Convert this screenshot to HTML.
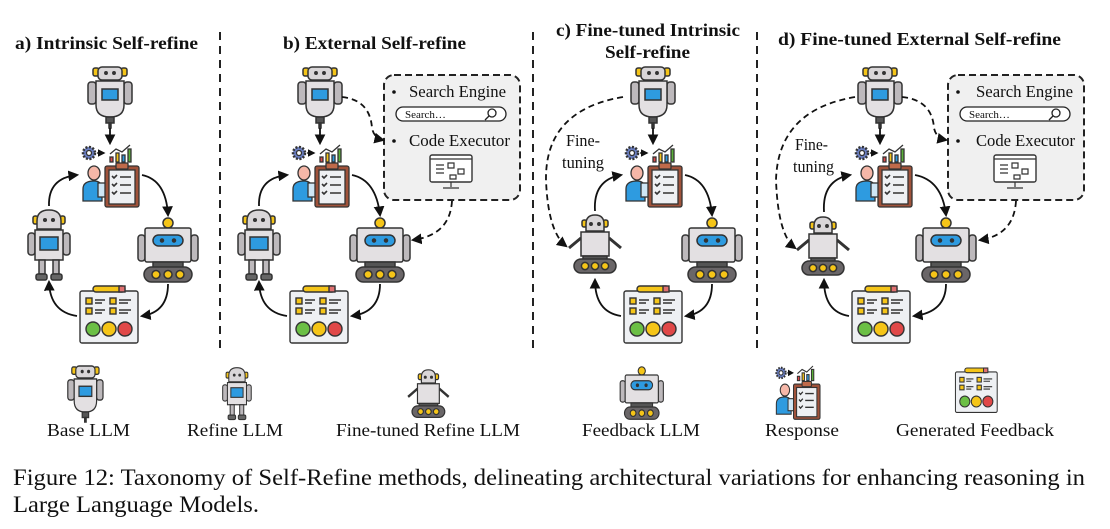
<!DOCTYPE html>
<html><head><meta charset="utf-8"><style>
html,body{margin:0;padding:0;background:#fff;}
svg{display:block;}
text{font-family:"Liberation Serif",serif;fill:#111;}
</style></head><body>
<svg width="1110" height="529" viewBox="0 0 1110 529" xmlns="http://www.w3.org/2000/svg">
<defs>
<marker id="ah" viewBox="0 0 10 10" refX="8" refY="5" markerWidth="6" markerHeight="6" orient="auto"><path d="M0,0 L10,5 L0,10 z" fill="#111"/></marker>
<g id="base" stroke="#333" stroke-width="1.5">
 <rect x="6" y="1" width="6" height="8" rx="2" fill="#f5c518"/><rect x="34" y="1" width="6" height="8" rx="2" fill="#f5c518"/>
 <rect x="11" y="0" width="24" height="13" rx="4" fill="#d9d6d8"/>
 <circle cx="19" cy="6" r="1.2" fill="#333"/><circle cx="27" cy="6" r="1.2" fill="#333"/>
 <rect x="1" y="15" width="8" height="22" rx="3" fill="#bdb9bc"/><rect x="37" y="15" width="8" height="22" rx="3" fill="#bdb9bc"/>
 <path d="M9,14 H37 V38 Q37,50 23,50 Q9,50 9,38 Z" fill="#e3e0e2"/>
 <rect x="15" y="22" width="16" height="11" fill="#2e9be0"/>
 <rect x="19" y="50" width="8" height="6" fill="#555"/><path d="M22,56 h2 v5 h-2z" fill="#333"/>
</g>
<g id="resp" stroke="#333" stroke-width="1.3">
 <circle cx="9" cy="8" r="6" fill="#6b7fc2" stroke-dasharray="2 1.5" stroke-width="2.5"/><circle cx="9" cy="8" r="2.5" fill="#fff"/>
 <path d="M17,8 h7" marker-end="url(#ah)" stroke="#111"/>
 <rect x="30" y="12" width="3" height="5" fill="#e04848"/><rect x="36" y="8" width="3" height="9" fill="#f5c518"/><rect x="42" y="10" width="3" height="7" fill="#2e9be0"/><rect x="48" y="4" width="3" height="13" fill="#5bb03a"/>
 <path d="M30,9 L36,4 L42,7 L50,0" fill="none"/>
 <ellipse cx="14" cy="28" rx="6" ry="7" fill="#f5b7a8"/>
 <path d="M3,56 V44 Q3,36 14,36 Q22,36 22,44 V56 Z" fill="#2e9be0"/>
 <rect x="18" y="38" width="9" height="14" fill="#cfe6f5"/>
 <rect x="25" y="21" width="34" height="41" rx="2" fill="#a0523a"/>
 <rect x="29" y="25" width="26" height="34" fill="#eef0f3"/>
 <rect x="36" y="18" width="12" height="6" rx="1" fill="#c06a4a"/>
 <path d="M32,31 l2,2 l3,-3 M32,39 l2,2 l3,-3 M32,47 l2,2 l3,-3 M40,32 h11 M40,40 h11 M40,48 h11" fill="none" stroke-width="1.6"/>
</g>
<g id="refine" stroke="#333" stroke-width="1.5">
 <rect x="6" y="7" width="5" height="8" rx="2" fill="#f5c518"/><rect x="33" y="7" width="5" height="8" rx="2" fill="#f5c518"/>
 <path d="M10,20 V12 Q10,1 22,1 Q34,1 34,12 V20 Z" fill="#d9d6d8"/>
 <circle cx="18" cy="11" r="1.3" fill="#333"/><circle cx="26" cy="11" r="1.3" fill="#333"/>
 <rect x="1" y="24" width="7" height="22" rx="3" fill="#bdb9bc"/><rect x="36" y="24" width="7" height="22" rx="3" fill="#bdb9bc"/>
 <rect x="8" y="21" width="28" height="30" fill="#e3e0e2"/>
 <rect x="13" y="28" width="18" height="13" fill="#2e9be0"/>
 <rect x="12" y="51" width="6" height="14" fill="#bdb9bc"/><rect x="26" y="51" width="6" height="14" fill="#bdb9bc"/>
 <rect x="9" y="65" width="11" height="6" rx="2" fill="#666"/><rect x="24" y="65" width="11" height="6" rx="2" fill="#666"/>
</g>
<g id="fb" stroke="#333" stroke-width="1.5">
 <circle cx="33" cy="6" r="5" fill="#f5c518"/>
 <rect x="3" y="18" width="7" height="26" rx="3" fill="#bdb9bc"/><rect x="56" y="18" width="7" height="26" rx="3" fill="#bdb9bc"/>
 <rect x="10" y="11" width="46" height="34" rx="2" fill="#e3e0e2"/>
 <rect x="18" y="18" width="30" height="11" rx="5.5" fill="#2e9be0"/>
 <circle cx="27" cy="23.5" r="1.5" fill="#333"/><circle cx="39" cy="23.5" r="1.5" fill="#333"/>
 <rect x="18" y="45" width="30" height="6" fill="#555"/>
 <rect x="9" y="50" width="48" height="15" rx="7.5" fill="#6a6668"/>
 <circle cx="21" cy="57.5" r="4" fill="#f5c518"/><circle cx="33" cy="57.5" r="4" fill="#f5c518"/><circle cx="45" cy="57.5" r="4" fill="#f5c518"/>
</g>
<g id="sheet" stroke="#333" stroke-width="1.4">
 <rect x="2" y="5" width="58" height="52" rx="2" fill="#eef0f3"/>
 <rect x="15" y="0" width="32" height="6" rx="3" fill="#f5c518"/><rect x="41" y="0" width="6" height="6" fill="#e07070"/>
 <rect x="8" y="12" width="6" height="6" fill="#f5c518"/><rect x="32" y="12" width="6" height="6" fill="#f5c518"/>
 <rect x="8" y="22" width="6" height="6" fill="#f5c518"/><rect x="32" y="22" width="6" height="6" fill="#f5c518"/>
 <path d="M17,14 h10 M17,17 h7 M41,14 h12 M41,17 h9 M17,24 h10 M17,27 h7 M41,24 h12 M41,27 h9" fill="none"/>
 <circle cx="15" cy="43" r="7" fill="#6bbf45"/><circle cx="31" cy="43" r="7" fill="#f5c518"/><circle cx="47" cy="43" r="7" fill="#e04848"/>
</g>
<g id="ft" stroke="#333" stroke-width="1.5">
 <rect x="17" y="6" width="5" height="7" rx="2" fill="#f5c518"/><rect x="38" y="6" width="5" height="7" rx="2" fill="#f5c518"/>
 <path d="M21,17 V10 Q21,1 30,1 Q39,1 39,10 V17 Z" fill="#d9d6d8"/>
 <circle cx="26" cy="10" r="1.2" fill="#333"/><circle cx="34" cy="10" r="1.2" fill="#333"/>
 <path d="M16,24 L4,34 M44,24 L56,34" stroke-width="3"/>
 <rect x="16" y="18" width="28" height="24" fill="#e3e0e2"/>
 <rect x="18" y="42" width="24" height="4" fill="#555"/>
 <rect x="9" y="45" width="42" height="14" rx="7" fill="#6a6668"/>
 <circle cx="20" cy="52" r="3.6" fill="#f5c518"/><circle cx="30" cy="52" r="3.6" fill="#f5c518"/><circle cx="40" cy="52" r="3.6" fill="#f5c518"/>
</g>
<g id="box">
 <rect x="0" y="0" width="136" height="125" rx="10" fill="#f0f0f0" stroke="#222" stroke-width="2" stroke-dasharray="7 4"/>
 <circle cx="10" cy="17" r="1.8" fill="#111"/>
 <rect x="12" y="32" width="110" height="14" rx="7" fill="#fff" stroke="#222" stroke-width="1.3"/>
 <circle cx="108" cy="38" r="4" fill="none" stroke="#222" stroke-width="1.3"/><path d="M105,41 l-4,4" stroke="#222" stroke-width="1.3"/>
 <circle cx="10" cy="66" r="1.8" fill="#111"/>
 <rect x="46" y="80" width="42" height="27" rx="2" fill="#fff" stroke="#333" stroke-width="1.4"/>
 <path d="M46,84 h42 M52,90 h8 M52,94 h8 M52,98 h8 M64,88 h6 v5 h-6z M74,94 h6 v5 h-6z M66,100 h6 v4 h-6z M67,107 v5 M59,113 h16" fill="none" stroke="#333" stroke-width="1.2"/>
</g>
</defs>

<g stroke="#222" stroke-width="2" stroke-dasharray="8 6">
<path d="M220,32 V352"/><path d="M533,32 V352"/><path d="M757,32 V352"/>
</g>

<g font-weight="bold" font-size="18" lengthAdjust="spacingAndGlyphs">
<text x="15" y="49" textLength="183" lengthAdjust="spacingAndGlyphs">a) Intrinsic Self-refine</text>
<text x="283" y="49" textLength="183" lengthAdjust="spacingAndGlyphs">b) External Self-refine</text>
<text x="556" y="36" textLength="184" lengthAdjust="spacingAndGlyphs">c) Fine-tuned Intrinsic</text>
<text x="605" y="58" textLength="85" lengthAdjust="spacingAndGlyphs">Self-refine</text>
<text x="778" y="45" textLength="283" lengthAdjust="spacingAndGlyphs">d) Fine-tuned External Self-refine</text>
</g>

<g>
<use href="#base" x="87" y="67"/>
<use href="#resp" x="80" y="145"/>
<use href="#refine" x="27" y="209"/>
<use href="#fb" x="135" y="217"/>
<use href="#sheet" x="78" y="286"/>
<g fill="none" stroke="#111" stroke-width="1.8" marker-end="url(#ah)">
<path d="M110,128 V143"/>
<path d="M49,206 Q48,178 77,175"/>
<path d="M142,175 Q166,180 168,215"/>
<path d="M168,284 Q168,312 142,316"/>
<path d="M77,316 Q50,312 49,282"/>
</g>
</g>
<g transform="translate(210,0)">
<use href="#base" x="87" y="67"/>
<use href="#resp" x="80" y="145"/>
<use href="#refine" x="27" y="209"/>
<use href="#fb" x="137" y="217"/>
<use href="#sheet" x="78" y="286"/>
<g fill="none" stroke="#111" stroke-width="1.8" marker-end="url(#ah)">
<path d="M110,128 V143"/>
<path d="M49,206 Q48,178 77,175"/>
<path d="M142,175 Q166,180 170,215"/>
<path d="M170,284 Q170,312 142,316"/>
<path d="M77,316 Q50,312 49,282"/>
</g>
</g>
<use href="#box" x="384" y="75"/>
<g fill="none" stroke="#111" stroke-width="1.8" stroke-dasharray="6 4" marker-end="url(#ah)">
<path d="M342,97 Q370,100 372,128 Q374,138 383,140"/>
<path d="M452,201 Q450,235 413,240"/>
</g>
<g font-size="16.5"><text x="409" y="97" textLength="97" lengthAdjust="spacingAndGlyphs">Search Engine</text><text x="409" y="146" textLength="101" lengthAdjust="spacingAndGlyphs">Code Executor</text></g>
<text x="405" y="118" font-size="11">Search…</text>

<g transform="translate(543,0)">
<use href="#base" x="87" y="67"/>
<use href="#resp" x="80" y="145"/>
<use href="#fb" x="136" y="217"/>
<use href="#sheet" x="79" y="286"/>
<g fill="none" stroke="#111" stroke-width="1.8" marker-end="url(#ah)">
<path d="M110,128 V143"/>
<path d="M52,211 Q50,180 78,175"/>
<path d="M142,175 Q166,180 169,215"/>
<path d="M169,284 Q169,312 143,316"/>
<path d="M78,316 Q52,312 52,280"/>
</g>
</g>
<use href="#ft" x="565" y="214"/>
<path d="M623,97 Q545,110 546,180 Q548,232 566,246" fill="none" stroke="#111" stroke-width="1.8" stroke-dasharray="6 4" marker-end="url(#ah)"/>
<g font-size="16.5"><text x="566" y="146" textLength="34" lengthAdjust="spacingAndGlyphs">Fine-</text><text x="562" y="168" textLength="42" lengthAdjust="spacingAndGlyphs">tuning</text></g>

<g transform="translate(770,0)">
<use href="#base" x="87" y="67"/>
<use href="#resp" x="83" y="145"/>
<use href="#fb" x="143" y="217"/>
<use href="#sheet" x="80" y="286"/>
<g fill="none" stroke="#111" stroke-width="1.8" marker-end="url(#ah)">
<path d="M110,128 V143"/>
<path d="M54,212 Q52,180 80,175"/>
<path d="M145,175 Q172,180 176,215"/>
<path d="M176,284 Q176,312 144,316"/>
<path d="M79,316 Q54,312 54,280"/>
</g>
</g>
<use href="#ft" x="793" y="216"/>
<use href="#box" x="948" y="75"/>
<g fill="none" stroke="#111" stroke-width="1.8" stroke-dasharray="6 4" marker-end="url(#ah)">
<path d="M855,97 Q778,110 776,180 Q778,235 795,248"/>
<path d="M902,97 Q932,100 934,128 Q936,138 946,140"/>
<path d="M1016,201 Q1014,235 980,240"/>
</g>
<g font-size="16.5"><text x="976" y="97" textLength="97" lengthAdjust="spacingAndGlyphs">Search Engine</text><text x="976" y="146" textLength="99" lengthAdjust="spacingAndGlyphs">Code Executor</text><text x="795" y="150" textLength="33" lengthAdjust="spacingAndGlyphs">Fine-</text><text x="793" y="172" textLength="41" lengthAdjust="spacingAndGlyphs">tuning</text></g>
<text x="969" y="118" font-size="11">Search…</text>

<use href="#base" transform="translate(67,366) scale(0.8,0.92)"/>
<use href="#refine" transform="translate(222,367) scale(0.68,0.74)"/>
<use href="#ft" transform="translate(405,369) scale(0.78,0.82)"/>
<use href="#fb" transform="translate(618,366) scale(0.72,0.82)"/>
<use href="#resp" transform="translate(774,366) scale(0.78,0.86)"/>
<use href="#sheet" transform="translate(954,368) scale(0.72,0.78)"/>
<g font-size="18">
<text x="47" y="436" textLength="83" lengthAdjust="spacingAndGlyphs">Base LLM</text>
<text x="187" y="436" textLength="96" lengthAdjust="spacingAndGlyphs">Refine LLM</text>
<text x="336" y="436" textLength="184" lengthAdjust="spacingAndGlyphs">Fine-tuned Refine LLM</text>
<text x="582" y="436" textLength="118" lengthAdjust="spacingAndGlyphs">Feedback LLM</text>
<text x="765" y="436" textLength="74" lengthAdjust="spacingAndGlyphs">Response</text>
<text x="896" y="436" textLength="158" lengthAdjust="spacingAndGlyphs">Generated Feedback</text>
</g>
<g font-size="23">
<text x="13" y="485" textLength="1072" lengthAdjust="spacingAndGlyphs">Figure 12: Taxonomy of Self-Refine methods, delineating architectural variations for enhancing reasoning in</text>
<text x="13" y="512" textLength="246" lengthAdjust="spacingAndGlyphs">Large Language Models.</text>
</g>
</svg>
</body></html>
